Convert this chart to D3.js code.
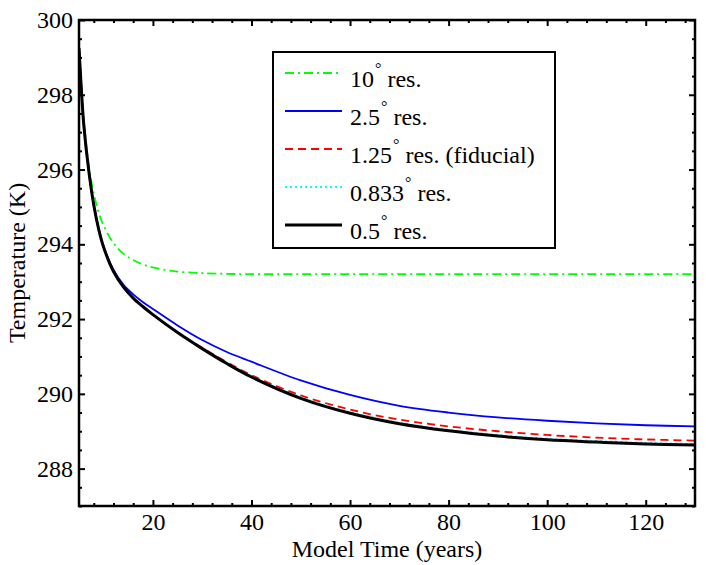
<!DOCTYPE html>
<html>
<head>
<meta charset="utf-8">
<script src="https://cdn.jsdelivr.net/npm/d3@7"></script>
<style>
  body { margin: 0; background: #fff; }
  svg text { font-family: "Liberation Serif", "DejaVu Serif", "Times New Roman", Times, serif; }
</style>
</head>
<body>
<div id="chart"></div>
<script>
// model time (years) where the curves were read
var years = [5, 5.5, 6, 7, 8, 9, 10, 12, 14, 16, 18, 20, 25, 30, 35, 40, 50, 60, 70, 80, 90, 100, 110, 120, 130];

// temperature (K) per resolution
var res10   = [299.3, 298.2, 297.3, 296.1, 295.35, 294.85, 294.5, 294.03, 293.75, 293.58, 293.46, 293.38, 293.27, 293.23, 293.21, 293.2, 293.2, 293.2, 293.2, 293.2, 293.2, 293.2, 293.2, 293.2, 293.2];
var res25   = [299.25, 298.1, 297.15, 295.95, 295.05, 294.4, 293.93, 293.32, 292.92, 292.66, 292.45, 292.27, 291.83, 291.44, 291.12, 290.86, 290.36, 289.97, 289.68, 289.5, 289.37, 289.28, 289.21, 289.16, 289.13];
var res125  = [299.25, 298.1, 297.15, 295.95, 295.05, 294.4, 293.92, 293.27, 292.86, 292.56, 292.33, 292.12, 291.65, 291.23, 290.85, 290.5, 289.96, 289.58, 289.31, 289.13, 289.0, 288.9, 288.83, 288.78, 288.75];
var res0833 = [299.25, 298.1, 297.15, 295.95, 295.05, 294.4, 293.92, 293.27, 292.86, 292.56, 292.33, 292.12, 291.64, 291.22, 290.83, 290.47, 289.91, 289.51, 289.23, 289.04, 288.9, 288.8, 288.74, 288.69, 288.66];
var res05   = [299.25, 298.1, 297.15, 295.95, 295.05, 294.4, 293.92, 293.27, 292.86, 292.56, 292.33, 292.12, 291.64, 291.21, 290.81, 290.45, 289.88, 289.48, 289.2, 289.01, 288.87, 288.77, 288.71, 288.66, 288.63];

var legendLabels = ["10", "2.5", "1.25", "0.833", "0.5"];
var legendTails = [" res.", " res.", " res. (fiducial)", " res.", " res."];

var xTicks = [20, 40, 60, 80, 100, 120];
var yTicks = [288, 290, 292, 294, 296, 298, 300];

var margin = {top: 20, right: 11, bottom: 59, left: 79},
    width = 706 - margin.left - margin.right,
    height = 565 - margin.top - margin.bottom;

var svg = d3.select("#chart").append("svg")
    .attr("width", 706)
    .attr("height", 565)
    .append("g")
    .attr("transform", "translate(" + margin.left + "," + margin.top + ")");

var x = d3.scaleLinear().domain([5, 130]).range([0, width]);
var y = d3.scaleLinear().domain([287, 300]).range([height, 0]);

var xMinor = d3.range(8, 130, 4).filter(function(v) { return v % 20 != 0; });
var yMinor = d3.range(287, 300, 0.5).filter(function(v) { return v % 2 != 0; });

svg.append("defs").append("clipPath")
    .attr("id", "plotclip")
    .append("rect")
    .attr("width", width)
    .attr("height", height);

// series
var series = [
    {vals: res10,   color: "#00ff00", dash: "9,4,2,4", w: 1.8},
    {vals: res25,   color: "#0000ff", dash: null,      w: 1.8},
    {vals: res125,  color: "#ff0000", dash: "8,5",     w: 1.8},
    {vals: res0833, color: "#00ffff", dash: "2,3",     w: 1.8},
    {vals: res05,   color: "#000000", dash: null,      w: 3}
];

var line = d3.line()
    .x(function(d) { return x(d[0]); })
    .y(function(d) { return y(d[1]); })
    .curve(d3.curveCatmullRom.alpha(0.5));

var lines = svg.append("g").attr("clip-path", "url(#plotclip)");
series.forEach(function(s) {
    lines.append("path")
        .datum(d3.zip(years, s.vals))
        .attr("d", line)
        .attr("fill", "none")
        .attr("stroke", s.color)
        .attr("stroke-width", s.w)
        .attr("stroke-dasharray", s.dash);
});

// axes: ticks on all four sides, pointing inward
function styleAxis(g) {
    g.attr("font-family", null).attr("font-size", null);
    g.select(".domain").remove();
    g.selectAll(".tick line").attr("stroke", "#000").attr("stroke-width", 2);
    g.selectAll(".tick text")
        .style("font-size", "24px")
        .attr("fill", "#000");
}

svg.append("g")
    .attr("transform", "translate(0," + height + ")")
    .call(d3.axisBottom(x).tickValues(xTicks).tickSize(-6).tickPadding(7).tickFormat(d3.format("d")))
    .call(styleAxis);
svg.append("g")
    .attr("transform", "translate(0," + height + ")")
    .call(d3.axisBottom(x).tickValues(xMinor).tickSize(-3).tickFormat(""))
    .call(styleAxis);
svg.append("g")
    .call(d3.axisTop(x).tickValues(xTicks).tickSize(-6).tickFormat(""))
    .call(styleAxis);
svg.append("g")
    .call(d3.axisTop(x).tickValues(xMinor).tickSize(-3).tickFormat(""))
    .call(styleAxis);

svg.append("g")
    .call(d3.axisLeft(y).tickValues(yTicks).tickSize(-6).tickPadding(6).tickFormat(d3.format("d")))
    .call(styleAxis);
svg.append("g")
    .call(d3.axisLeft(y).tickValues(yMinor).tickSize(-3).tickFormat(""))
    .call(styleAxis);
svg.append("g")
    .attr("transform", "translate(" + width + ",0)")
    .call(d3.axisRight(y).tickValues(yTicks).tickSize(-6).tickFormat(""))
    .call(styleAxis);
svg.append("g")
    .attr("transform", "translate(" + width + ",0)")
    .call(d3.axisRight(y).tickValues(yMinor).tickSize(-3).tickFormat(""))
    .call(styleAxis);

// box
svg.append("rect")
    .attr("width", width)
    .attr("height", height)
    .attr("fill", "none")
    .attr("stroke", "#000")
    .attr("stroke-width", 2.5);

// axis labels
svg.append("text")
    .attr("x", width / 2)
    .attr("y", height + 51)
    .attr("text-anchor", "middle")
    .style("font-size", "24px")
    .text("Model Time (years)");

svg.append("text")
    .attr("transform", "rotate(-90)")
    .attr("x", -height / 2)
    .attr("y", -54)
    .attr("text-anchor", "middle")
    .style("font-size", "24px")
    .text("Temperature (K)");

// legend
var legend = svg.append("g").attr("transform", "translate(194,32)");
legend.append("rect")
    .attr("width", 282)
    .attr("height", 196)
    .attr("fill", "#fff")
    .attr("stroke", "#000")
    .attr("stroke-width", 2);

series.forEach(function(s, i) {
    var ly = 21 + i * 38;
    legend.append("line")
        .attr("x1", 12).attr("x2", 69)
        .attr("y1", ly).attr("y2", ly)
        .attr("stroke", s.color)
        .attr("stroke-width", s.w)
        .attr("stroke-dasharray", s.dash);
    var t = legend.append("text")
        .attr("x", 77)
        .attr("y", ly + 14)
        .style("font-size", "24px");
    t.append("tspan").text(legendLabels[i]);
    t.append("tspan").attr("dy", -13).attr("dx", 1).style("font-size", "16px").text("\u00b0");
    t.append("tspan").attr("dy", 13).text(legendTails[i]);
});
</script>
</body>
</html>
